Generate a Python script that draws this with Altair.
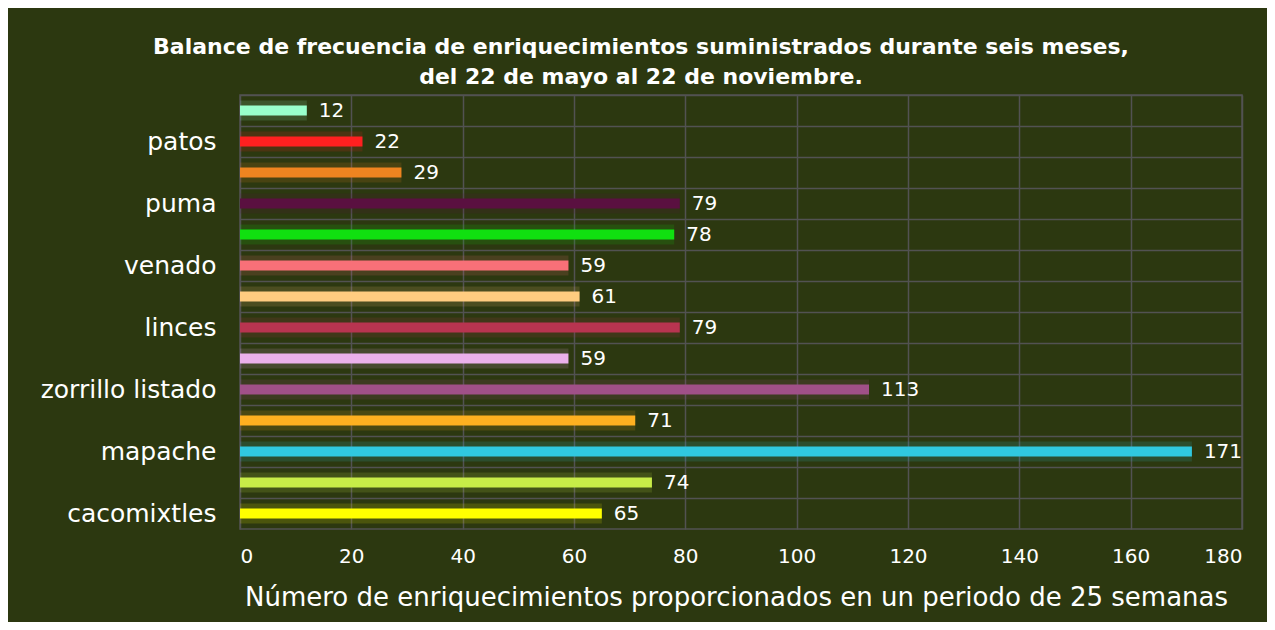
import json
import altair as alt
import pandas as pd

# Data (top to bottom as drawn)
labels = ["", "patos", "", "puma", "", "venado", "", "linces", "",
          "zorrillo listado", "", "mapache", "", "cacomixtles"]
values = [12, 22, 29, 79, 78, 59, 61, 79, 59, 113, 71, 171, 74, 65]
colors = ["#99ffcc", "#ff2020", "#ee8420", "#5a1040", "#10e010", "#f87078",
          "#ffcc80", "#b83450", "#ebb0eb", "#a05088", "#ffb020", "#30c8e0",
          "#c8ec48", "#ffff00"]
x_ticks = [0, 20, 40, 60, 80, 100, 120, 140, 160, 180]

df = pd.DataFrame({"idx": list(range(len(values))), "value": values, "color": colors})

label_expr = json.dumps(labels) + "[datum.value]"
BG = "#2c3810"
GRID = "#525252"
FONT = "DejaVu Sans"

y_enc = alt.Y("idx:O", sort=None,
              scale=alt.Scale(paddingInner=0, paddingOuter=0),
              axis=alt.Axis(title=None, labelExpr=label_expr, labelFontSize=25,
                            labelColor="white", labelFont=FONT, labelPadding=24,
                            ticks=False, domain=False, grid=True, gridColor=GRID,
                            gridWidth=1.5, bandPosition=0))
x_enc = alt.X("value:Q",
              scale=alt.Scale(domain=[0, 180]),
              axis=alt.Axis(values=x_ticks, title="Número de enriquecimientos proporcionados  en un periodo de 25 semanas",
                            titleFontSize=26, titleFontWeight="normal", titleColor="white",
                            titleFont=FONT, titlePadding=18, titleX=496,
                            labelFontSize=20, labelColor="white", labelFont=FONT,
                            labelPadding=17, ticks=False, domain=False,
                            grid=True, gridColor=GRID, gridWidth=1.5))

base = alt.Chart(df).encode(y=y_enc, x=x_enc)

bars = base.mark_bar(size=10).encode(color=alt.Color("color:N", scale=None))
glow = base.mark_bar(size=20, opacity=0.15).encode(color=alt.Color("color:N", scale=None))
text = base.mark_text(align="left", dx=12, fontSize=20, color="white", font=FONT).encode(
    text=alt.Text("value:Q"))

chart = alt.layer(glow, bars, text).properties(
    width=1002, height=434,
    title=alt.TitleParams(
        ["Balance de frecuencia de enriquecimientos suministrados  durante seis meses,",
         "del 22 de mayo al 22 de noviembre."],
        fontSize=22, fontWeight="bold", color="white", font=FONT, anchor="middle",
        dx=-100, offset=6, lineHeight=30),
    background=BG,
    padding={"left": 232, "top": 87, "right": 25, "bottom": 93},
    autosize=alt.AutoSizeParams(type="none"),
).configure_view(stroke=GRID, strokeWidth=1.5)

chart.save("out.html", embed_options={"renderer": "svg", "actions": False})
